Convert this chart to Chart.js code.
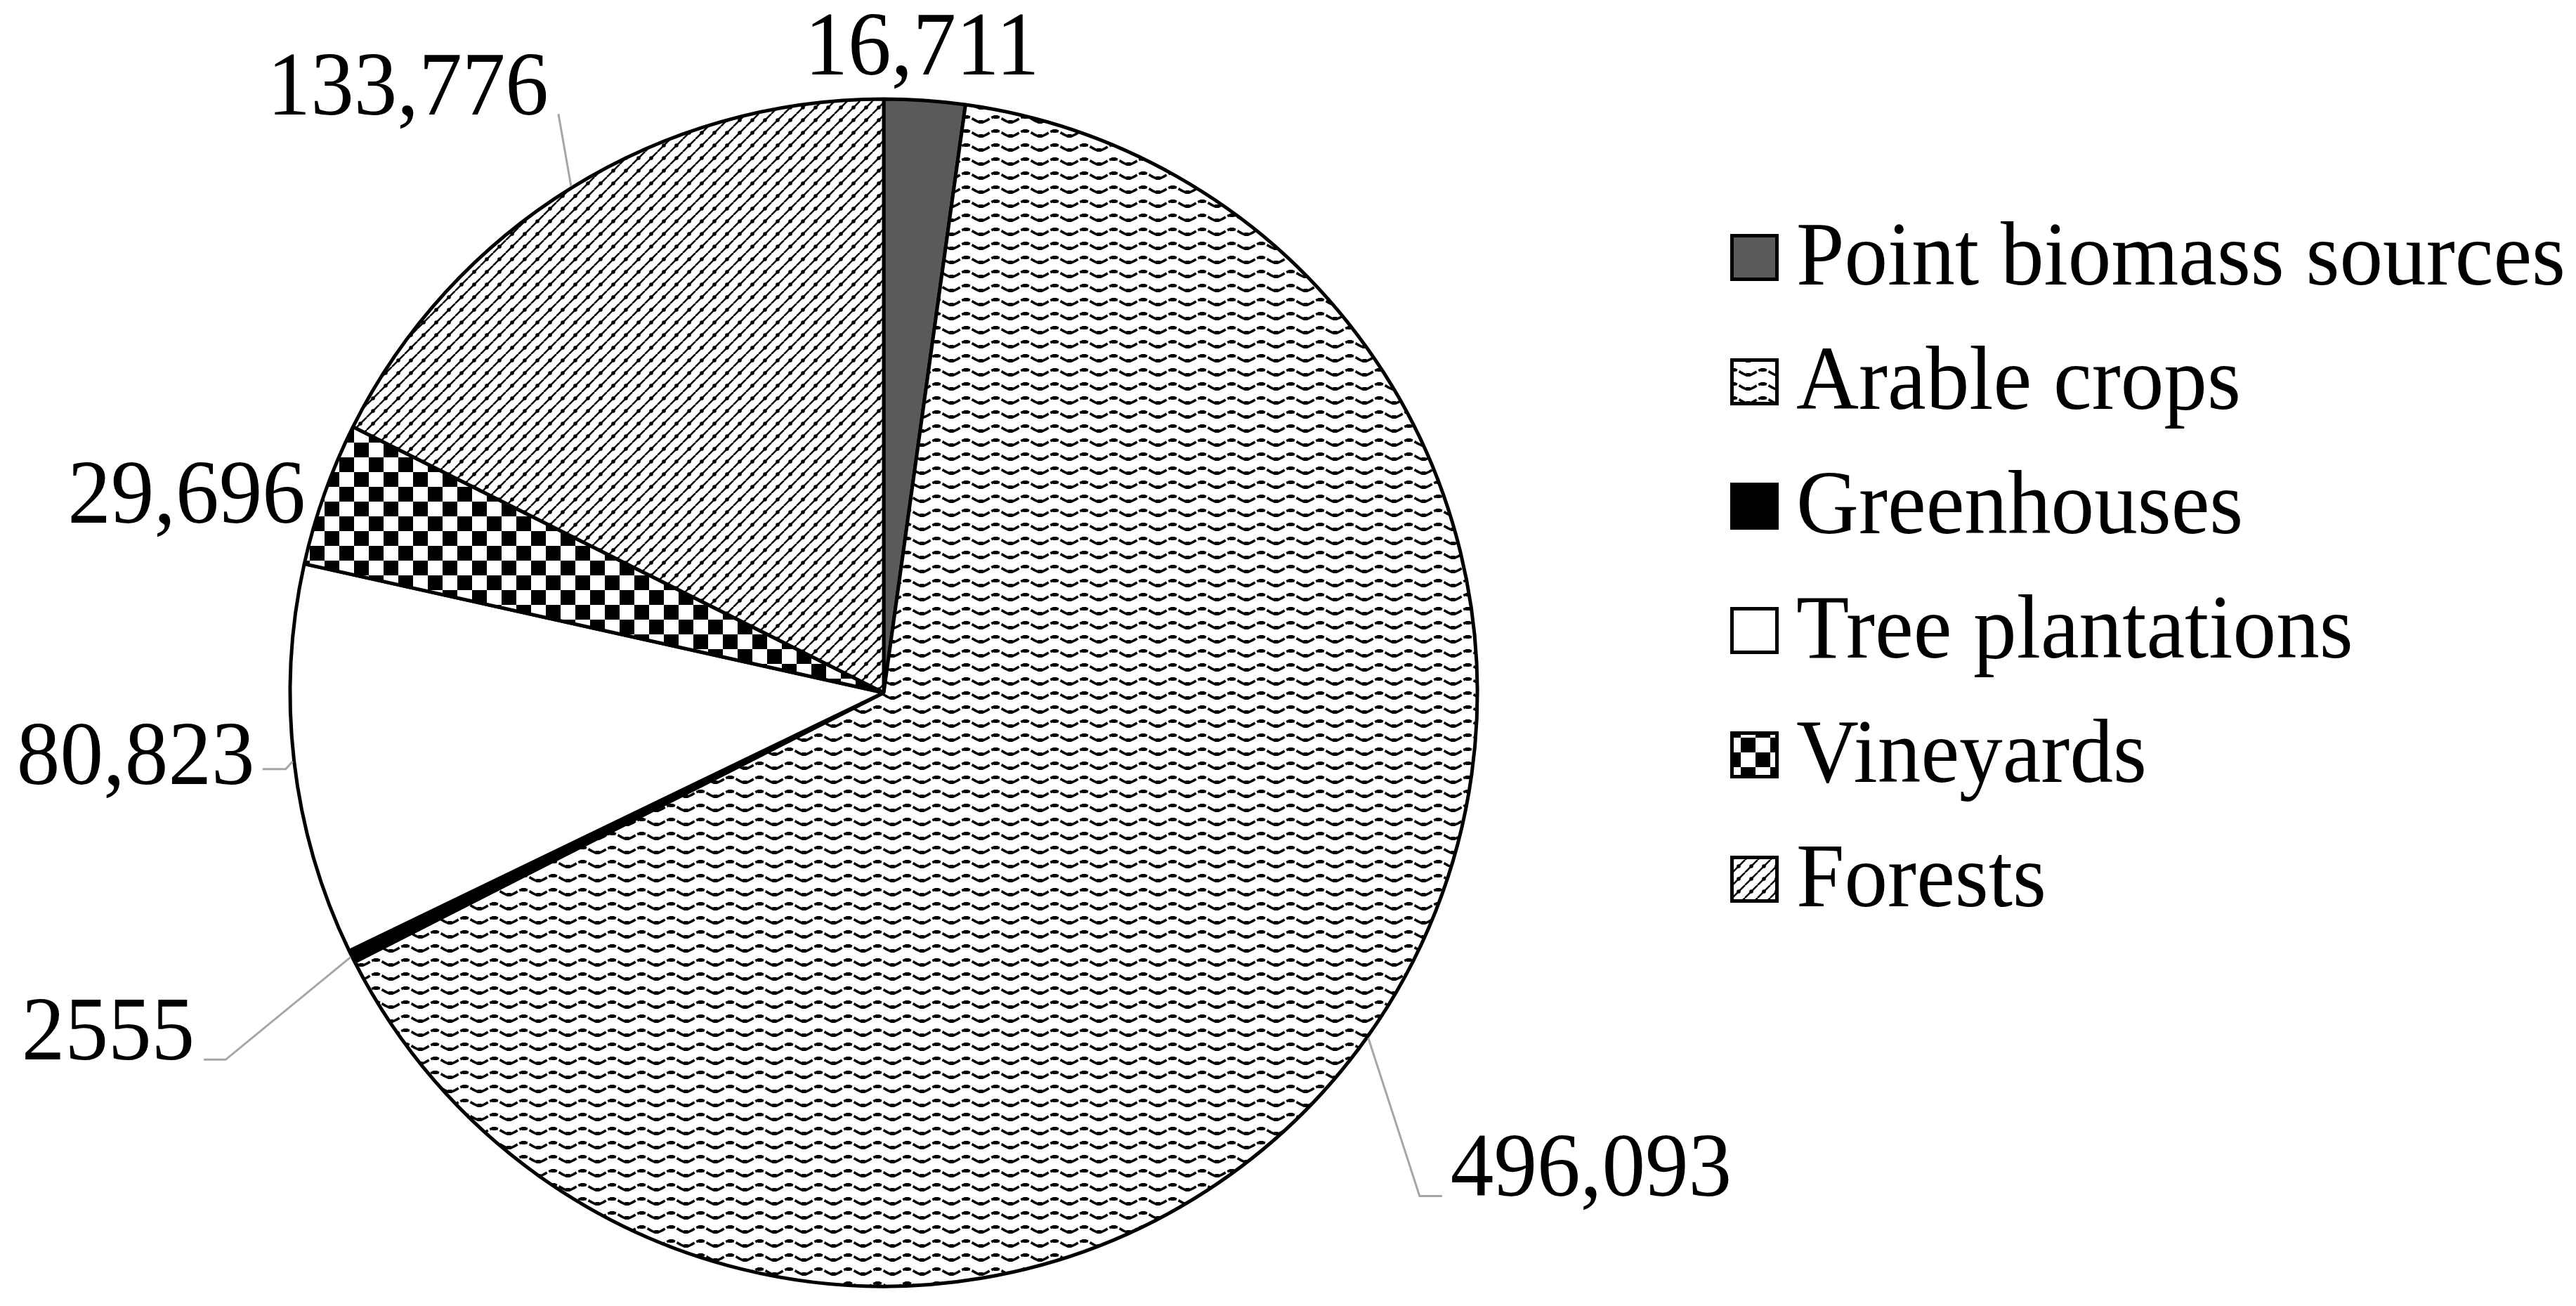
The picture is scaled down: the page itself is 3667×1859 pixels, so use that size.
<!DOCTYPE html>
<html>
<head>
<meta charset="utf-8">
<script src="https://cdn.jsdelivr.net/npm/chart.js@4.4.1/dist/chart.umd.min.js"></script>
<style>
  html, body { margin: 0; padding: 0; background: #fff; }
  #wrap { position: relative; width: 3667px; height: 1859px; }
</style>
</head>
<body>
<div id="wrap"><canvas id="pie"></canvas></div>
<script>
// ── data ──
const categories = ['Point biomass sources', 'Arable crops', 'Greenhouses', 'Tree plantations', 'Vineyards', 'Forests'];
const values = [16711, 496093, 2555, 80823, 29696, 133776];
const valueLabels = ['16,711', '496,093', '2555', '80,823', '29,696', '133,776'];

const canvas = document.getElementById('pie');
const ctx = canvas.getContext('2d');

const FONT = '129px "Liberation Serif", "Times New Roman", serif';
const TEXT_SX = 0.955; // reference type is a touch narrower than Liberation Serif

/* ── pattern fills (Excel-like) ── */
function makeTile(w, h, draw) {
  const c = document.createElement('canvas');
  c.width = w; c.height = h;
  const g = c.getContext('2d');
  g.fillStyle = '#fff';
  g.fillRect(0, 0, w, h);
  draw(g, w, h);
  return ctx.createPattern(c, 'repeat');
}

// arable crops: rows of broken waves
const waveFill = makeTile(42, 20, (g, w, h) => {
  g.strokeStyle = '#000';
  g.lineWidth = 3.6;
  g.setLineDash([12, 3]);
  g.beginPath();
  for (let x = -2; x <= w + 2; x++) {
    const y = h / 2 + 4 * Math.sin((x / w) * Math.PI * 2);
    x === -2 ? g.moveTo(x, y) : g.lineTo(x, y);
  }
  g.stroke();
  g.fillStyle = '#000';
  g.fillRect(w / 4 - 3, h / 2 + 1, 6, 5);
  g.fillRect((3 * w) / 4 - 3, h / 2 - 6, 6, 5);
});

// forests: dotted upward diagonals
const diagFill = makeTile(18, 18, (g, w, h) => {
  g.strokeStyle = '#000';
  g.lineWidth = 2.5;
  g.beginPath();
  for (let k = -1; k <= 1; k++) {
    g.moveTo(k * w, h);
    g.lineTo(k * w + w, 0);
  }
  g.stroke();
  g.fillStyle = '#000';
  g.beginPath();
  g.arc(w / 2, h / 2, 2.8, 0, Math.PI * 2);
  g.fill();
});

// vineyards: small checkerboard
const checkerFill = makeTile(42, 42, (g) => {
  g.fillStyle = '#000';
  g.fillRect(0, 0, 21, 21);
  g.fillRect(21, 21, 21, 21);
});

const fills = ['#5a5a5a', waveFill, '#000000', '#ffffff', checkerFill, diagFill];

/* ── data label placement, relative to the slice's outer edge ── */
const labelPlacement = [
  { dx: -4,   dy: -35,  align: 'center', leader: false },
  { dx: 73,   dy: 225,  align: 'left',   leader: true, hLen: 32, gap: 12, base: 0 },
  { dx: -178, dy: 146,  align: 'right',  leader: true, hLen: 31, gap: 13, base: 0 },
  { dx: -10,  dy: 11,   align: 'right',  leader: true, hLen: 33, gap: 11, base: 21 },
  { dx: -25,  dy: 42,   align: 'right',  leader: false },
  { dx: -18,  dy: -103, align: 'right',  leader: true, hLen: 0,  gap: 14, base: 1 }
];

function drawText(c, text, x, y, align) {
  c.save();
  c.translate(x, y);
  c.scale(TEXT_SX, 1);
  c.font = FONT;
  c.fillStyle = '#000';
  c.textAlign = align;
  c.textBaseline = 'alphabetic';
  c.fillText(text, 0, 0);
  c.restore();
}

const dataLabels = {
  id: 'dataLabels',
  afterDatasetsDraw(chart) {
    const c = chart.ctx;
    const meta = chart.getDatasetMeta(0);
    meta.data.forEach((arc, i) => {
      const { x, y, startAngle, endAngle, outerRadius } =
        arc.getProps(['x', 'y', 'startAngle', 'endAngle', 'outerRadius'], true);
      const mid = (startAngle + endAngle) / 2;
      const ex = x + Math.cos(mid) * (outerRadius + 2);
      const ey = y + Math.sin(mid) * (outerRadius + 2);
      const p = labelPlacement[i];
      const bx = ex + p.dx, by = ey + p.dy;
      if (!p.leader) {
        drawText(c, valueLabels[i], bx, by, p.align);
        return;
      }
      const dir = p.align === 'left' ? 1 : -1;
      const endX = bx + dir * p.hLen;
      c.save();
      c.strokeStyle = '#a6a6a6';
      c.lineWidth = 3;
      c.beginPath();
      c.moveTo(ex, ey);
      c.lineTo(bx, by);
      c.lineTo(endX, by);
      c.stroke();
      c.restore();
      drawText(c, valueLabels[i], endX + dir * p.gap, by + p.base, p.align);
    });
  }
};

/* ── legend (drawn by hand so the pie keeps its spot) ── */
const sideLegend = {
  id: 'sideLegend',
  afterDraw(chart) {
    const c = chart.ctx;
    const left = 2463, top = 333, step = 177, bw = 69, bh = 67;
    categories.forEach((name, i) => {
      const y0 = top + i * step;
      c.save();
      c.fillStyle = fills[i];
      c.fillRect(left, y0, bw, bh);
      c.strokeStyle = '#000';
      c.lineWidth = 5;
      c.strokeRect(left + 2.5, y0 + 2.5, bw - 5, bh - 5);
      c.restore();
      drawText(c, name, left + 94, y0 + 72, 'left');
    });
  }
};

new Chart(ctx, {
  type: 'pie',
  data: {
    labels: categories,
    datasets: [{
      data: values,
      backgroundColor: fills,
      borderColor: '#000',
      borderWidth: 5
    }]
  },
  options: {
    responsive: true,
    maintainAspectRatio: false,
    animation: false,
    radius: 845,
    layout: { padding: { left: 0, right: 1151, top: 113, bottom: 0 } },
    plugins: {
      legend: { display: false },
      tooltip: { enabled: false }
    }
  },
  plugins: [dataLabels, sideLegend]
});
</script>
</body>
</html>
